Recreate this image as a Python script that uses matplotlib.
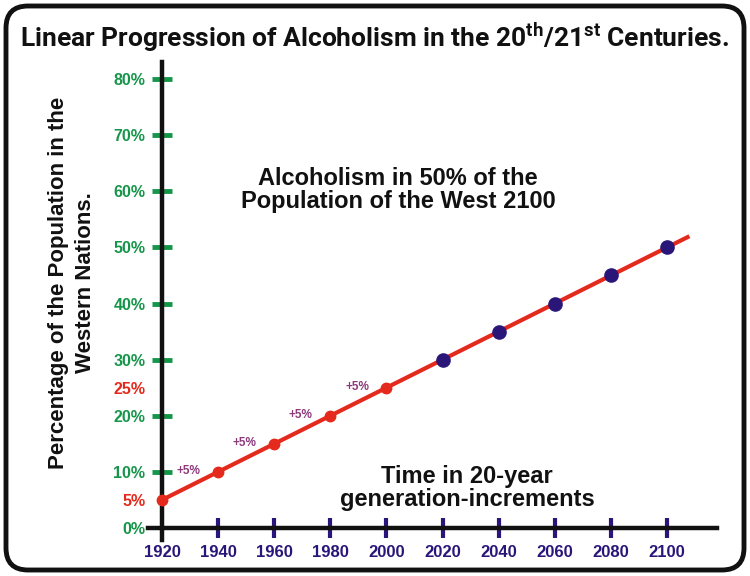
import numpy as np
import matplotlib
matplotlib.use("Agg")
import matplotlib.pyplot as plt
from matplotlib.patches import FancyBboxPatch
from matplotlib.transforms import IdentityTransform

# data
years = [1920, 1940, 1960, 1980, 2000, 2020, 2040, 2060, 2080, 2100]
percent = [5, 10, 15, 20, 25, 30, 35, 40, 45, 50]
n_observed = 5           # 1920-2000 drawn red, rest projected (navy)
trend_end_year = 2108    # line runs a bit past the last point
step_labels = ["+5%", "+5%", "+5%", "+5%"]

ytick_vals = [0, 5, 10, 20, 25, 30, 40, 50, 60, 70, 80]
ytick_text = ["0%", "5%", "10%", "20%", "25%", "30%", "40%", "50%", "60%", "70%", "80%"]
ytick_red = [5, 25]
ytick_nomark = [0, 5, 25]

GREEN = "#16964a"
RED = "#e42a1c"
NAVY = "#2a1678"
PURPLE = "#8c3a7c"

plt.rcParams["font.family"] = ["Liberation Sans", "DejaVu Sans"]
plt.rcParams["mathtext.fontset"] = "custom"
plt.rcParams["mathtext.bf"] = "Roboto:bold"

fig = plt.figure(figsize=(7.5, 5.76), dpi=100)
ax = fig.add_axes([0, 0, 1, 1])
ax.set_xlim(1862.25, 2129.6)
ax.set_ylim(-8.56, 94.1)
ax.patch.set_visible(False)

# axes lines
for s in ["top", "right"]:
    ax.spines[s].set_visible(False)
ax.spines["left"].set_position(("data", 1920))
ax.spines["bottom"].set_position(("data", 0))
ax.spines["left"].set_bounds(-2.2, 83.0)
ax.spines["bottom"].set_bounds(1915, 2118)
for s in ["left", "bottom"]:
    ax.spines[s].set_linewidth(3.2)
    ax.spines[s].set_color("#111111")

# trend line
slope = (percent[-1] - percent[0]) / (years[-1] - years[0])
trend_x = years + [trend_end_year]
trend_y = percent + [percent[0] + slope * (trend_end_year - years[0])]
ax.plot(trend_x, trend_y, color=RED, lw=3.0, solid_capstyle="butt", zorder=3)
ax.plot(years[:n_observed], percent[:n_observed], "o", color=RED, ms=7.5, zorder=4)
ax.plot(years[n_observed:], percent[n_observed:], "o", color=NAVY, ms=9.5, zorder=4)

# +5% step annotations
for i, lab in enumerate(step_labels):
    x_mid = (years[i] + years[i + 1]) / 2
    ax.text(x_mid - 0.5, percent[i + 1] + 0.2, lab, color=PURPLE, fontsize=8.5,
            fontweight="bold", ha="center", va="center", zorder=5)

# ticks
ax.set_xticks(years)
ax.set_xticklabels([str(y) for y in years])
ax.tick_params(axis="x", direction="inout", length=14, width=3, color=NAVY,
               labelcolor=NAVY, labelsize=12, pad=5)
for lab in ax.get_xticklabels():
    lab.set_fontweight("bold")
ax.xaxis.get_major_ticks()[0].tick1line.set_visible(False)

ax.set_yticks(ytick_vals)
ax.set_yticklabels(ytick_text)
ax.tick_params(axis="y", direction="inout", length=14, width=3.5, color=GREEN,
               labelsize=11.5, pad=5)
for v, tick, lab in zip(ytick_vals, ax.yaxis.get_major_ticks(), ax.get_yticklabels()):
    lab.set_fontweight("bold")
    lab.set_color(RED if v in ytick_red else GREEN)
    if v in ytick_nomark:
        tick.tick1line.set_visible(False)

# texts
fig.text(0.5, 1 - 38 / 576,
         r"Linear Progression of Alcoholism in the 20$^{\bf th}$/21$^{\bf st}$ Centuries.",
         ha="center", va="center", fontsize=19, fontweight="bold",
         family="Roboto", color="#111111")
fig.text(398 / 750, 1 - 190 / 576, "Alcoholism in 50% of the\nPopulation of the West 2100",
         ha="center", va="center", fontsize=17, fontweight="bold",
         color="#111111", linespacing=1.05)
fig.text(467 / 750, 1 - 488 / 576, "Time in 20-year\ngeneration-increments",
         ha="center", va="center", fontsize=17, fontweight="bold",
         color="#111111", linespacing=1.0)
fig.text(72 / 750, 1 - 283 / 576, "Percentage of the Population in the\nWestern Nations.",
         ha="center", va="center", rotation=90, fontsize=16, fontweight="bold",
         color="#111111", linespacing=1.4)

# rounded frame
frame = FancyBboxPatch((6, 6), 738, 564, boxstyle="round,pad=0,rounding_size=22",
                       transform=IdentityTransform(), fill=False,
                       edgecolor="#111111", linewidth=3.5)
fig.patches.append(frame)

fig.savefig("out.png", dpi=100)
